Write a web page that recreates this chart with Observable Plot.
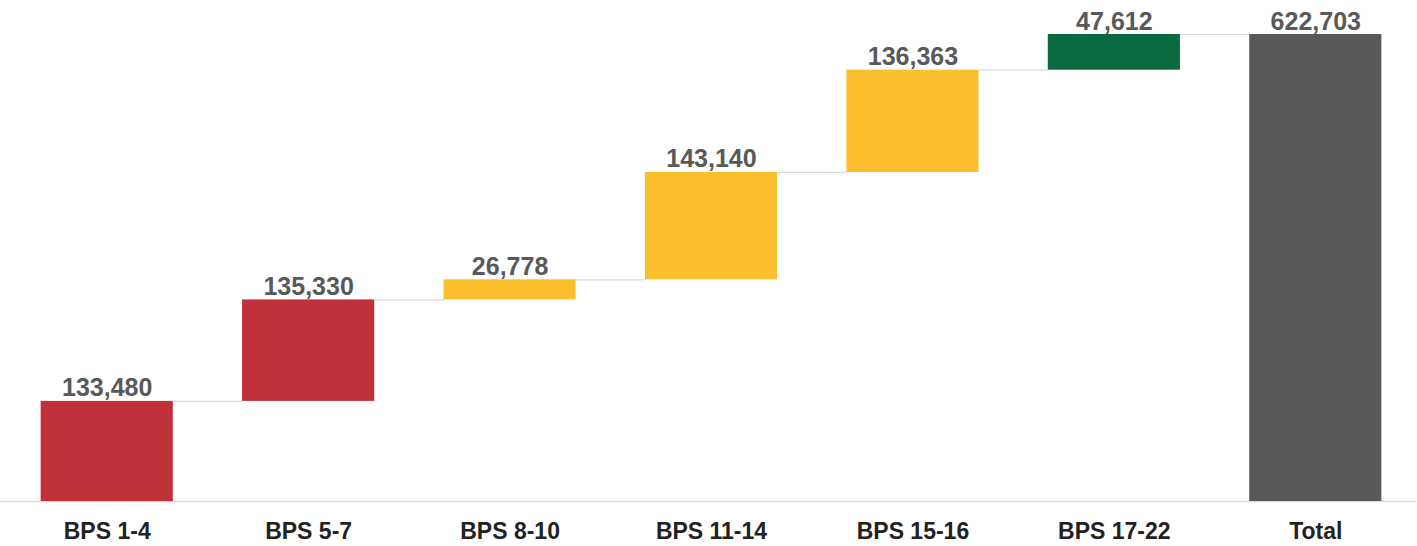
<!DOCTYPE html>
<html>
<head>
<meta charset="utf-8">
<script src="https://cdn.jsdelivr.net/npm/d3@7"></script>
<script src="https://cdn.jsdelivr.net/npm/@observablehq/plot@0.6"></script>
<style>
  html, body { margin: 0; padding: 0; background: #fff; }
  svg { font-family: "Liberation Sans", Arial, sans-serif; }
</style>
</head>
<body>
<div id="chart"></div>
<script>
const categories = ["BPS 1-4", "BPS 5-7", "BPS 8-10", "BPS 11-14", "BPS 15-16", "BPS 17-22", "Total"];
const values = [133480, 135330, 26778, 143140, 136363, 47612, 622703];
const isTotal = [false, false, false, false, false, false, true];
const colors = ["#C1313A", "#C1313A", "#FBBE2C", "#FBBE2C", "#FBBE2C", "#0A6A3F", "#595959"];

const halfBar = 0.328;
let run = 0;
const rows = categories.map((c, i) => {
  let start, end;
  if (isTotal[i]) { start = 0; end = values[i]; }
  else { start = run; end = run + values[i]; run = end; }
  return { i, cat: c, value: values[i], start, end, color: colors[i] };
});
const connectors = rows.slice(0, -1).map((r, k) => ({ x1: r.i + halfBar, x2: rows[k + 1].i - halfBar, y: r.end }));

const chart = Plot.plot({
  width: 1417,
  height: 546,
  marginTop: 34,
  marginBottom: 45,
  marginLeft: 6,
  marginRight: 1,
  style: { fontFamily: "'Liberation Sans', Arial, sans-serif", background: "#fff" },
  x: { domain: [-0.5, categories.length - 0.5], axis: null },
  y: { domain: [0, 622703], axis: null },
  marks: [
    Plot.ruleY([0], { stroke: "#d9d9d9", strokeWidth: 1.5, x1: -0.53, x2: 6.5 }),
    Plot.link(connectors, { x1: "x1", x2: "x2", y1: "y", y2: "y", stroke: "#d9d9d9", strokeWidth: 1.2 }),
    Plot.rectY(rows, { x1: d => d.i - halfBar, x2: d => d.i + halfBar, y1: "start", y2: "end", fill: "color" }),
    Plot.text(rows, { x: "i", y: "end", text: d => d3.format(",")(d.value), dy: -5, lineAnchor: "bottom", fontSize: 25, fontWeight: "bold", fill: "#595959" }),
    Plot.axisX({ ticks: rows.map(d => d.i), tickFormat: i => categories[i], tickSize: 0, tickPadding: 21, fontSize: 23, fontWeight: "bold", fill: "#222", label: null })
  ]
});
document.getElementById("chart").appendChild(chart);
</script>
</body>
</html>
